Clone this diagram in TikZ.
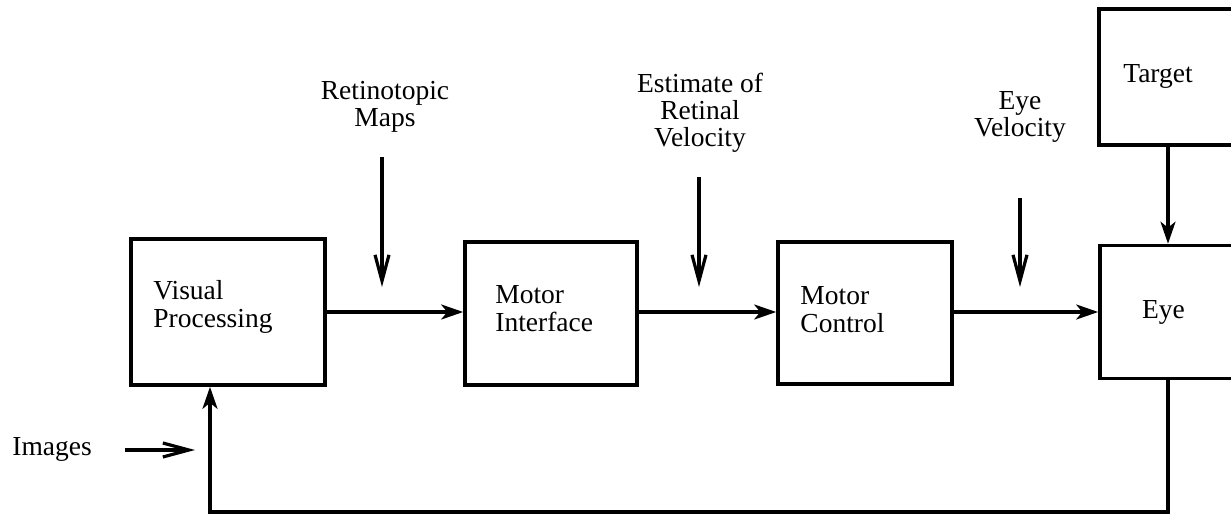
\documentclass[tikz,border=0pt]{standalone}
\usepackage{fontspec}
\setmainfont{Liberation Serif}
\usetikzlibrary{arrows.meta}
\tikzset{
  blk/.style={draw, line width=1.8pt, inner sep=0pt, fill=none},
  txt/.style={font=\fontsize{13.75pt}{14pt}\selectfont, align=left, inner sep=0pt},
  lbl/.style={font=\fontsize{13.75pt}{13.6pt}\selectfont, align=center, inner sep=0pt},
  conn/.style={line width=1.6pt, -{Stealth[length=11pt,width=7.5pt,inset=3pt]}},
  inarr/.style={line width=1.6pt, -{Straight Barb[length=13pt,width=7pt,line width=1.6pt]}},
  plain/.style={line width=1.6pt}
}
\begin{document}
\begin{tikzpicture}[x=0.5pt,y=-0.5pt]
\useasboundingbox (0,0) rectangle (1231,514);
\clip (0,0) rectangle (1231,514);
% boxes
\node[blk, minimum width=97pt, minimum height=73pt] (vp) at (228,312) {};
\node[blk, minimum width=86pt, minimum height=71.5pt] (mi) at (551,313.5) {};
\node[blk, minimum width=87pt, minimum height=71pt] (mc) at (865,313) {};
\node[blk, minimum width=68pt, minimum height=66.5pt] (eye) at (1168,312) {};
\node[blk, minimum width=69pt, minimum height=68pt] (target) at (1168,77) {};
% box texts
\node[txt, anchor=west] (vpT) at (153,307) {Visual\\Processing};
\node[txt, anchor=west] (miT) at (495,309) {Motor\\Interface};
\node[txt, anchor=west] (mcT) at (800,310) {Motor\\Control};
\node[txt] (eyeT) at (1163.5,312) {Eye};
\node[txt] (tgT) at (1158,76) {Target};
% labels
\node[lbl] (retL) at (385,107) {Retinotopic\\Maps};
\node[lbl] (estL) at (700,113) {Estimate of\\Retinal\\Velocity};
\node[lbl] (evL) at (1020,117) {Eye\\Velocity};
\node[txt, anchor=west] (imgL) at (12,449) {Images};
% coordinates
\coordinate (rtop) at (382,157);
\coordinate (rbot) at (382,287);
\coordinate (etop) at (699,177);
\coordinate (ebot) at (699,287);
\coordinate (vtop) at (1020,198);
\coordinate (vbot) at (1020,287);
\coordinate (imgA) at (125,450);
\coordinate (imgB) at (195,450);
\coordinate (fb) at (210,512);
% connectors
\draw[conn] (vp.east) -- (vp.east -| mi.west);
\draw[conn] (mi.east |- vp.east) -- (mc.west |- vp.east);
\draw[conn] (mc.east |- eye.west) -- (eye.west);
\draw[conn] (target.south) -- (eye.north);
\draw[conn] (eye.south) |- (fb) -- (fb |- vp.south);
\draw[inarr] (rtop) -- (rbot);
\draw[inarr] (etop) -- (ebot);
\draw[inarr] (vtop) -- (vbot);
\draw[inarr] (imgA) -- (imgB);
\end{tikzpicture}
\end{document}
